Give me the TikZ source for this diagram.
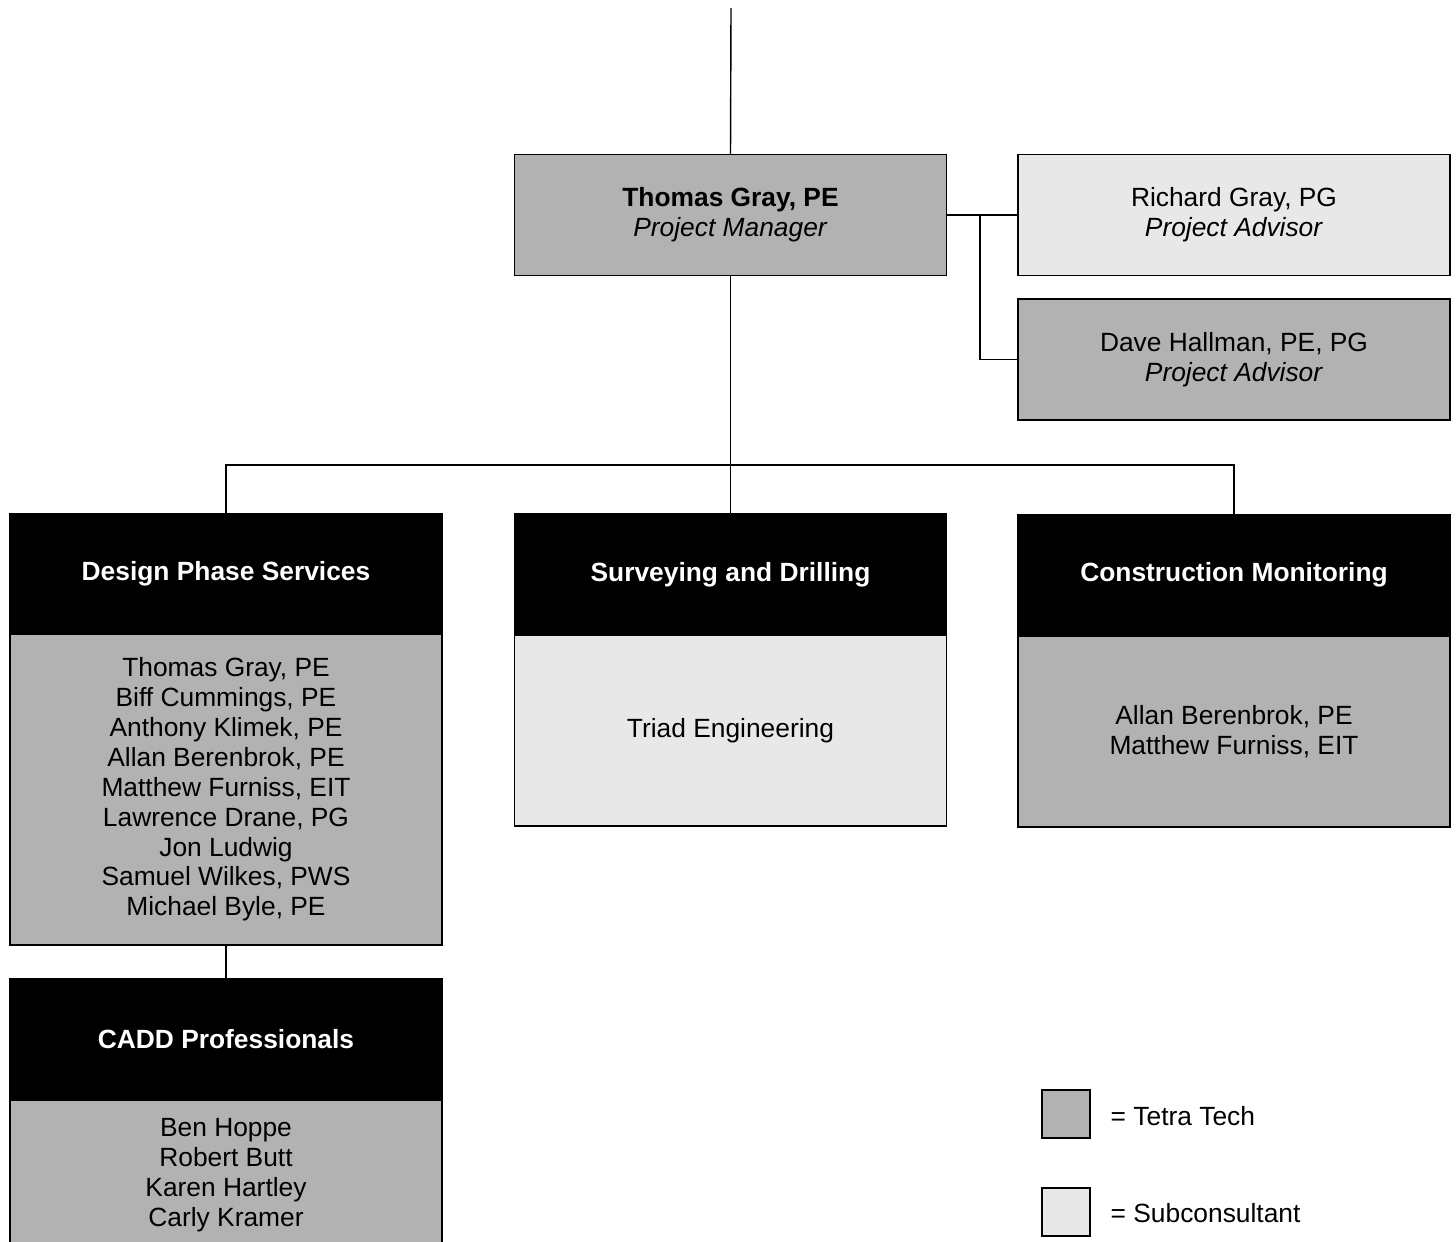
\documentclass[tikz,border=0pt]{standalone}
\usepackage{fontspec}
\setmainfont{Liberation Sans}
\definecolor{tetragray}{gray}{0.70}
\definecolor{subgray}{gray}{0.91}

\begin{document}
\begin{tikzpicture}[
    x=0.02cm, y=-0.02cm,
    line width=0.8pt,
    every node/.style={font=\fontsize{15}{17}\selectfont},
    tetra/.style={rectangle, draw, fill=tetragray, minimum width=8.64cm, minimum height=2.42cm, align=center, inner sep=0pt},
    sub/.style={rectangle, draw, fill=subgray, minimum width=8.64cm, minimum height=2.42cm, align=center, inner sep=0pt},
    head/.style={rectangle, draw, fill=black, text=white, minimum width=8.64cm, minimum height=2.42cm, inner sep=0pt, font=\fontsize{15}{17}\selectfont\bfseries},
    keybox/.style={rectangle, draw, minimum width=0.96cm, minimum height=0.96cm, inner sep=0pt}
]
\clip (0,0) rectangle (1456,1241);

% project manager and advisors
\coordinate (top) at (731,8);
\node[tetra] (pm) at (730.5,215) {\textbf{Thomas Gray, PE}\\\textit{Project Manager}};
\node[sub] (richard) at (1234,215) {Richard Gray, PG\\\textit{Project Advisor}};
\node[tetra] (dave) at (1234,359.5) {Dave Hallman, PE, PG\\\textit{Project Advisor}};

% service groups
\node[head] (dpsHead) at (226,574) {Design Phase Services};
\node[tetra, minimum height=6.22cm] (dpsBody) at (226,789.5) {Thomas Gray, PE\\Biff Cummings, PE\\Anthony Klimek, PE\\Allan Berenbrok, PE\\Matthew Furniss, EIT\\Lawrence Drane, PG\\Jon Ludwig\\Samuel Wilkes, PWS\\Michael Byle, PE};

\node[head] (sdHead) at (730.5,574.5) {Surveying and Drilling};
\node[sub, minimum height=3.82cm] (sdBody) at (730.5,730.5) {Triad Engineering};

\node[head] (cmHead) at (1234,575) {Construction Monitoring};
\node[tetra, minimum height=3.82cm] (cmBody) at (1234,731.5) {Allan Berenbrok, PE\\Matthew Furniss, EIT};

% CADD group
\node[head] (caddHead) at (226,1039.5) {CADD Professionals};
\node[tetra, minimum height=3.0cm] (caddBody) at (226,1175) {Ben Hoppe\\Robert Butt\\Karen Hartley\\Carly Kramer};

% legend
\node[keybox, fill=tetragray] (keyTetra) at (1066,1114) {};
\node[anchor=west, inner sep=0pt] (keyTetraTxt) at (1110,1116) {= Tetra Tech};
\node[keybox, fill=subgray] (keySub) at (1066,1212) {};
\node[anchor=west, inner sep=0pt] (keySubTxt) at (1110,1213) {= Subconsultant};

% connectors
\coordinate (advjoint) at (980,215);
\coordinate (bus) at (730.5,465);
\draw (top) -- (pm.north);
\draw (pm.east) -- (richard.west);
\draw (advjoint) |- (dave.west);
\draw (pm.south) -- (bus);
\draw (dpsHead.north) |- (bus) -| (cmHead.north);
\draw (bus) -- (sdHead.north);
\draw (dpsBody.south) -- (caddHead.north);

\end{tikzpicture}
\end{document}
